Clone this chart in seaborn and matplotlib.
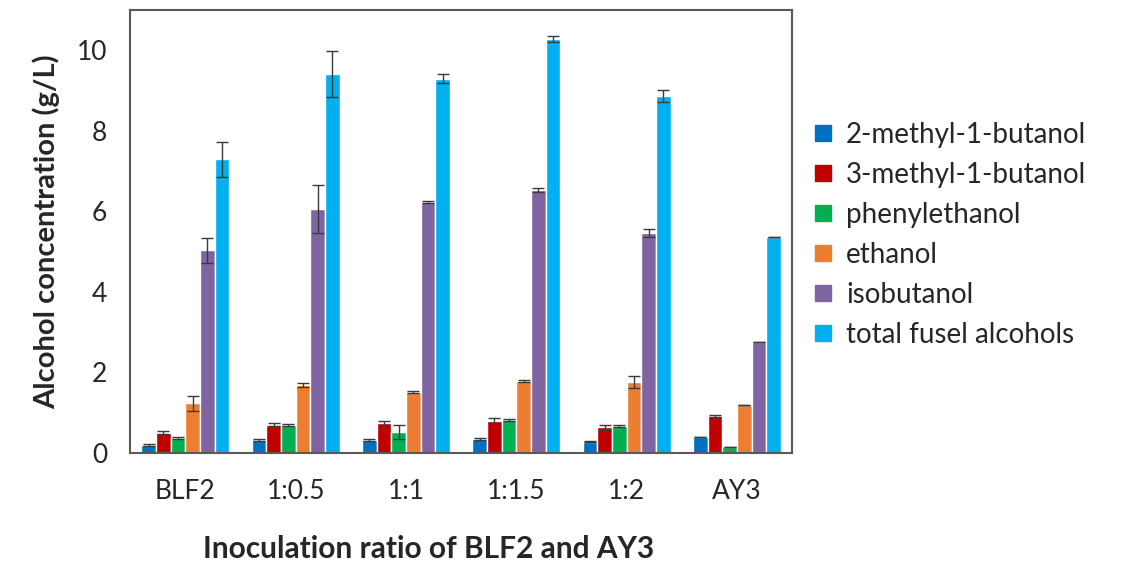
import matplotlib
matplotlib.use("Agg")
import matplotlib.pyplot as plt
import seaborn as sns
import pandas as pd
import numpy as np
from matplotlib.lines import Line2D

groups = ["BLF2", "1:0.5", "1:1", "1:1.5", "1:2", "AY3"]
alcohols = ["2-methyl-1-butanol", "3-methyl-1-butanol", "phenylethanol",
            "ethanol", "isobutanol", "total fusel alcohols"]
colors = ["#0070C0", "#C00000", "#00B050", "#ED7D31", "#8064A2", "#00B0F0"]

methyl2 = [0.20, 0.32, 0.32, 0.35, 0.28, 0.40]
methyl3 = [0.50, 0.70, 0.74, 0.80, 0.63, 0.92]
phenyl = [0.37, 0.69, 0.52, 0.82, 0.66, 0.15]
ethanol = [1.23, 1.69, 1.51, 1.79, 1.75, 1.19]
isobutanol = [5.03, 6.06, 6.24, 6.52, 5.47, 2.75]
total = [7.29, 9.42, 9.30, 10.28, 8.86, 5.36]

err_methyl2 = [0.02, 0.02, 0.02, 0.02, 0.02, 0.0]
err_methyl3 = [0.03, 0.03, 0.05, 0.07, 0.07, 0.03]
err_phenyl = [0.03, 0.03, 0.17, 0.03, 0.03, 0.0]
err_ethanol = [0.18, 0.05, 0.03, 0.03, 0.15, 0.0]
err_isobutanol = [0.32, 0.60, 0.03, 0.05, 0.10, 0.0]
err_total = [0.43, 0.57, 0.12, 0.07, 0.15, 0.0]

values = [methyl2, methyl3, phenyl, ethanol, isobutanol, total]
errors = [err_methyl2, err_methyl3, err_phenyl, err_ethanol, err_isobutanol, err_total]

rows = []
for a, vals in zip(alcohols, values):
    for g, v in zip(groups, vals):
        rows.append({"group": g, "alcohol": a, "value": v})
df = pd.DataFrame(rows)

sns.set_style("white")
plt.rcParams["font.family"] = ["Lato", "DejaVu Sans"]

fig = plt.figure(figsize=(11.22, 5.66), dpi=100)
ax = fig.add_axes([0.116, 0.2, 0.59, 0.782])

sns.barplot(data=df, x="group", y="value", hue="alcohol", order=groups,
            hue_order=alcohols, palette=colors, width=0.8, errorbar=None,
            saturation=1, ax=ax, legend=False)

for cont, errs in zip(ax.containers, errors):
    xs = [p.get_x() + p.get_width() / 2 for p in cont]
    ys = [p.get_height() for p in cont]
    ax.errorbar(xs, ys, yerr=errs, fmt="none", ecolor="#3a3a3a",
                elinewidth=1.0, capsize=4, capthick=1.0, zorder=5)

ax.set_ylim(0, 11)
ax.set_xlim(-0.5, 5.5)
ax.set_yticks([0, 2, 4, 6, 8, 10])
ax.set_xticks(np.arange(-0.5, 6.0, 1.0))
ax.set_xticklabels([])
ax.set_xticks(range(6), minor=True)
ax.set_xticklabels(groups, minor=True)
ax.tick_params(axis="x", which="major", direction="out", length=6.5, width=1.2, color="#595959")
ax.tick_params(axis="x", which="minor", length=0, pad=19, labelsize=19, labelcolor="#262626")
ax.tick_params(axis="y", direction="out", length=6.5, width=1.2, color="#595959",
               labelsize=19, labelcolor="#262626", pad=10)
for s in ax.spines.values():
    s.set_visible(True)
    s.set_color("#595959")
    s.set_linewidth(1.5)

ax.set_xlabel("Inoculation ratio of BLF2 and AY3", fontsize=21.5, fontweight="bold",
              color="#262626")
ax.xaxis.set_label_coords(0.451, -0.185)
ax.set_ylabel("Alcohol concentration (g/L)", fontsize=21, fontweight="bold",
              color="#262626", labelpad=12)

handles = [Line2D([0], [0], marker="s", linestyle="none", markersize=12,
                  markerfacecolor=c, markeredgecolor=c) for c in colors]
fig.legend(handles, alcohols, loc="center left", bbox_to_anchor=(0.707, 0.585),
           frameon=False, fontsize=20, handlelength=0.75, handletextpad=0.45,
           labelspacing=0.5, labelcolor="#262626", borderpad=0.2)

fig.savefig("out.png", dpi=100)
